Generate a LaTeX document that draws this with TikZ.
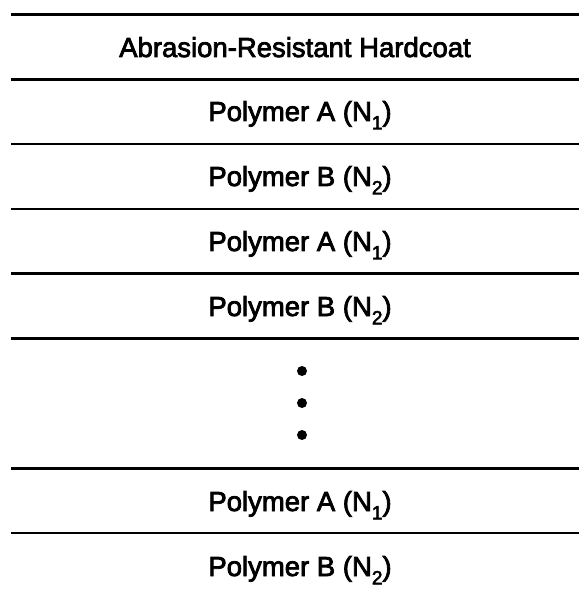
\documentclass[tikz,border=0pt]{standalone}
\usepackage{fontspec}
\newfontfamily\layerfont{Liberation Sans}[FakeBold=2.8]
\newcommand{\subidx}[1]{\raisebox{-0.3em}{\fontsize{19}{19}\selectfont #1}}
\begin{document}
\begin{tikzpicture}[x=1pt,y=-1pt,
  layerline/.style={line width=2.6pt, black},
  layertext/.style={font=\layerfont\fontsize{27.5}{30}\selectfont, anchor=base, inner sep=0pt},
  dotmark/.style={circle, fill=black, inner sep=0pt, minimum size=10pt}]
\useasboundingbox (0,0) rectangle (579,593);
% separating lines
\foreach \yy [count=\i] in {14.5,79.3,144.1,208.9,273.6,338.4,468.2,533.0}{
  \coordinate (l\i) at (11,\yy);
  \coordinate (r\i) at (579,\yy);
  \draw[layerline] (l\i) -- (r\i);
}
\node[layertext] (t1) at (295,57) {Abrasion-Resistant Hardcoat};
\node[layertext] (t2) at (300,121) {Polymer A (N\subidx{1})};
\node[layertext] (t3) at (300,186) {Polymer B (N\subidx{2})};
\node[layertext] (t4) at (300,251) {Polymer A (N\subidx{1})};
\node[layertext] (t5) at (300,316) {Polymer B (N\subidx{2})};
\node[dotmark] (d1) at (302,371) {};
\node[dotmark] (d2) at (302,403) {};
\node[dotmark] (d3) at (302,435) {};
\node[layertext] (t6) at (300,511) {Polymer A (N\subidx{1})};
\node[layertext] (t7) at (300,576) {Polymer B (N\subidx{2})};
\end{tikzpicture}
\end{document}
